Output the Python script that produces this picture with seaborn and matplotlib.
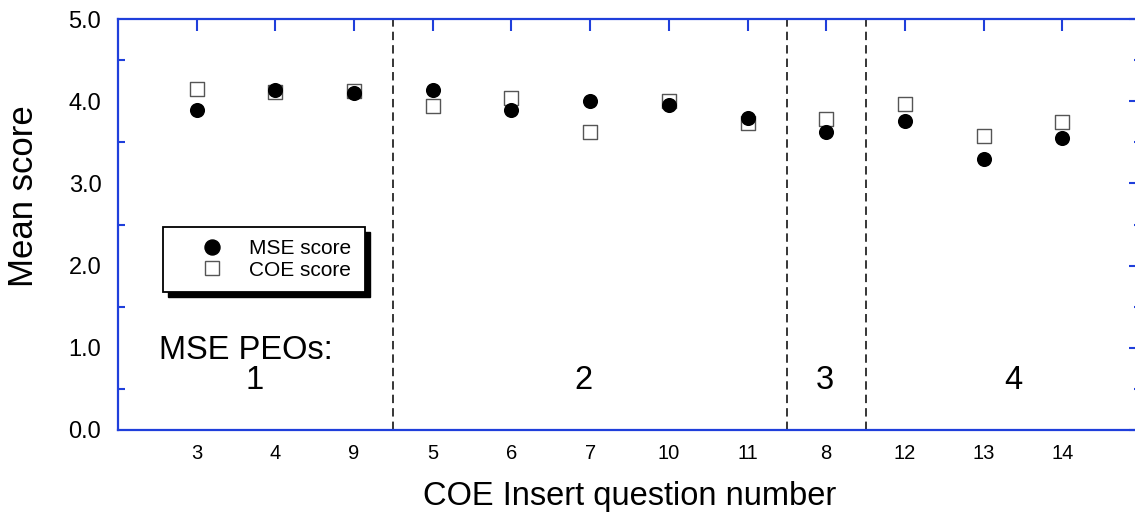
import numpy as np
import pandas as pd
import matplotlib
matplotlib.use("Agg")
import matplotlib.pyplot as plt
from matplotlib.patches import Rectangle
import seaborn as sns

# ---- data ----
questions = ['3', '4', '9', '5', '6', '7', '10', '11', '8', '12', '13', '14']
mse_score = [3.89, 4.14, 4.10, 4.14, 3.89, 4.00, 3.95, 3.80, 3.62, 3.76, 3.30, 3.55]
coe_score = [4.15, 4.11, 4.12, 3.94, 4.04, 3.63, 4.00, 3.74, 3.78, 3.97, 3.58, 3.75]
group_bounds = [2.5, 7.5, 8.5]
group_labels = ['1', '2', '3', '4']
group_label_x = [0.73, 4.92, 7.98, 10.38]
y_ticks = [0.0, 1.0, 2.0, 3.0, 4.0, 5.0]

sns.set_style("white")
plt.rcParams['font.family'] = ['Liberation Sans', 'DejaVu Sans']
plt.rcParams['text.color'] = 'black'
plt.rcParams['axes.labelcolor'] = 'black'

BLUE = '#1f3fdb'

df = pd.DataFrame({'pos': np.arange(len(questions)), 'question': questions,
                   'MSE': mse_score, 'COE': coe_score})

fig = plt.figure(figsize=(11.35, 5.17), dpi=100)
ax = fig.add_axes([118 / 1135, 87 / 517, 1023 / 1135, 411 / 517])

# group separators
for b in group_bounds:
    ax.axvline(b, color='black', lw=1.1, linestyle=(0, (5.5, 3.3)), zorder=1)

sns.scatterplot(data=df, x='pos', y='COE', marker='s', s=100, color='white',
                edgecolor='#555555', linewidth=1.0, ax=ax, zorder=3)
sns.scatterplot(data=df, x='pos', y='MSE', marker='o', s=118, color='black',
                edgecolor='black', linewidth=0, ax=ax, zorder=4)

ax.set_xlim(-1, 12)
ax.set_ylim(0, 5)
ax.set_xticks(df['pos'])
ax.set_xticklabels(questions)
ax.set_yticks(y_ticks)
ax.set_yticklabels([f'{v:.1f}' for v in y_ticks])
ax.set_yticks(np.arange(0.5, 5.0, 1.0), minor=True)

for sp in ax.spines.values():
    sp.set_visible(True)
    sp.set_color(BLUE)
    sp.set_linewidth(1.6)

ax.tick_params(axis='both', which='major', direction='in', length=8.5, width=1.5,
               color=BLUE, labelcolor='black', top=True, right=True)
ax.tick_params(axis='y', which='minor', direction='in', length=5, width=1.5,
               color=BLUE, left=True, right=True)
ax.tick_params(axis='x', which='major', labelsize=14.5, pad=10)
ax.tick_params(axis='y', which='major', labelsize=17, pad=12)

ax.set_xlabel('COE Insert question number', fontsize=23.5, labelpad=13)
ax.set_ylabel('Mean score', fontsize=25)
ax.yaxis.label.set_va('center')
ax.yaxis.set_label_coords(-0.092, 0.57)

# text annotations
ax.text(0.63, 0.97, 'MSE PEOs:', fontsize=23.5, ha='center', va='center')
for lab, gx in zip(group_labels, group_label_x):
    ax.text(gx, 0.6, lab, fontsize=23.5, ha='center', va='center')

# legend box with solid shadow
bx0, by0 = (163 - 118) / 1023, (430 - 292) / 411
bw, bh = (365 - 163) / 1023, (292 - 227) / 411
ax.add_patch(Rectangle((bx0 + 5 / 1023, by0 - 5 / 411), bw, bh, transform=ax.transAxes,
                       facecolor='black', edgecolor='black', zorder=8, clip_on=False))
ax.add_patch(Rectangle((bx0, by0), bw, bh, transform=ax.transAxes,
                       facecolor='white', edgecolor='black', lw=1.3, zorder=9, clip_on=False))

handles = [
    plt.Line2D([], [], marker='o', linestyle='none', markersize=10.8,
               markerfacecolor='black', markeredgecolor='black'),
    plt.Line2D([], [], marker='s', linestyle='none', markersize=10,
               markerfacecolor='white', markeredgecolor='#555555', markeredgewidth=1.0),
]
leg = ax.legend(handles, ['MSE score', 'COE score'], loc='center',
                bbox_to_anchor=((271 - 118) / 1023, (430 - 259.5) / 411),
                frameon=False, fontsize=15, labelspacing=0.1,
                handlelength=2.0, handletextpad=0.8, borderpad=0, borderaxespad=0)
for t in leg.get_texts():
    t.set_color('black')
leg.set_zorder(10)

fig.savefig('out.png', dpi=100)
